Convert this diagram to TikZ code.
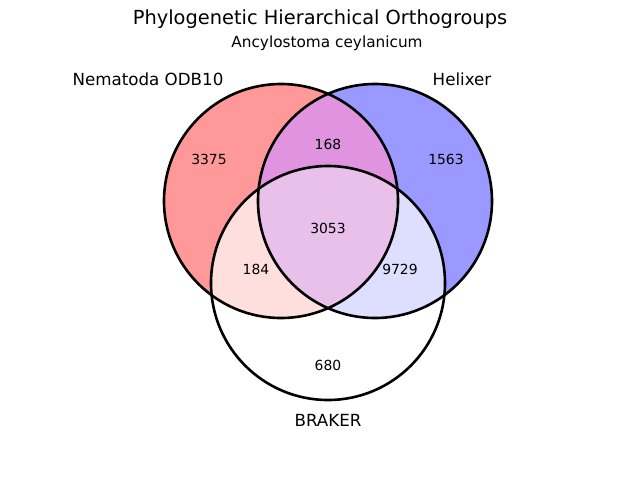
\documentclass[tikz,border=0pt]{standalone}
\usepackage{fontspec}
\setmainfont{DejaVu Sans}
\definecolor{onlyodb}{RGB}{255,153,153}
\definecolor{onlyhel}{RGB}{153,153,255}
\definecolor{odbhel}{RGB}{224,148,224}
\definecolor{odbbrk}{RGB}{255,222,222}
\definecolor{helbrk}{RGB}{222,222,255}
\definecolor{allthree}{RGB}{233,192,233}
\tikzset{
  setlabel/.style={font=\fontsize{16.7}{19}\selectfont},
  count/.style={font=\fontsize{13.9}{16}\selectfont},
}
\begin{document}
\begin{tikzpicture}[x=1pt,y=-1pt]
  \useasboundingbox (0,0) rectangle (640,480);
  \def\odb{(281,201) circle[radius=117pt]}
  \def\hel{(375,201) circle[radius=117pt]}
  \def\brk{(328,283) circle[radius=117pt]}
  % region fills
  \fill[onlyodb] \odb;
  \fill[onlyhel] \hel;
  \begin{scope}
    \clip \odb;
    \fill[odbhel] \hel;
    \fill[odbbrk] \brk;
  \end{scope}
  \begin{scope}
    \clip \hel;
    \fill[helbrk] \brk;
    \clip \odb;
    \fill[allthree] \brk;
  \end{scope}
  % outlines
  \draw[line width=2.6pt] \odb;
  \draw[line width=2.6pt] \hel;
  \draw[line width=2.6pt] \brk;
  \node[font=\fontsize{19.4}{22}\selectfont] (title) at (320,19) {Phylogenetic Hierarchical Orthogroups};
  \node[font=\fontsize{15.3}{18}\selectfont] (species) at (327,43) {Ancylostoma ceylanicum};
  \node[setlabel] (odblabel) at (148,79) {Nematoda ODB10};
  \node[setlabel] (hellabel) at (462,79) {Helixer};
  \node[setlabel] (brklabel) at (328,420) {BRAKER};
  \node[count] (n100) at (209,159) {3375};
  \node[count] (n110) at (328,144) {168};
  \node[count] (n010) at (446,159) {1563};
  \node[count] (n111) at (328,228) {3053};
  \node[count] (n101) at (256,269) {184};
  \node[count] (n011) at (400,269) {9729};
  \node[count] (n001) at (328,365) {680};
\end{tikzpicture}
\end{document}
